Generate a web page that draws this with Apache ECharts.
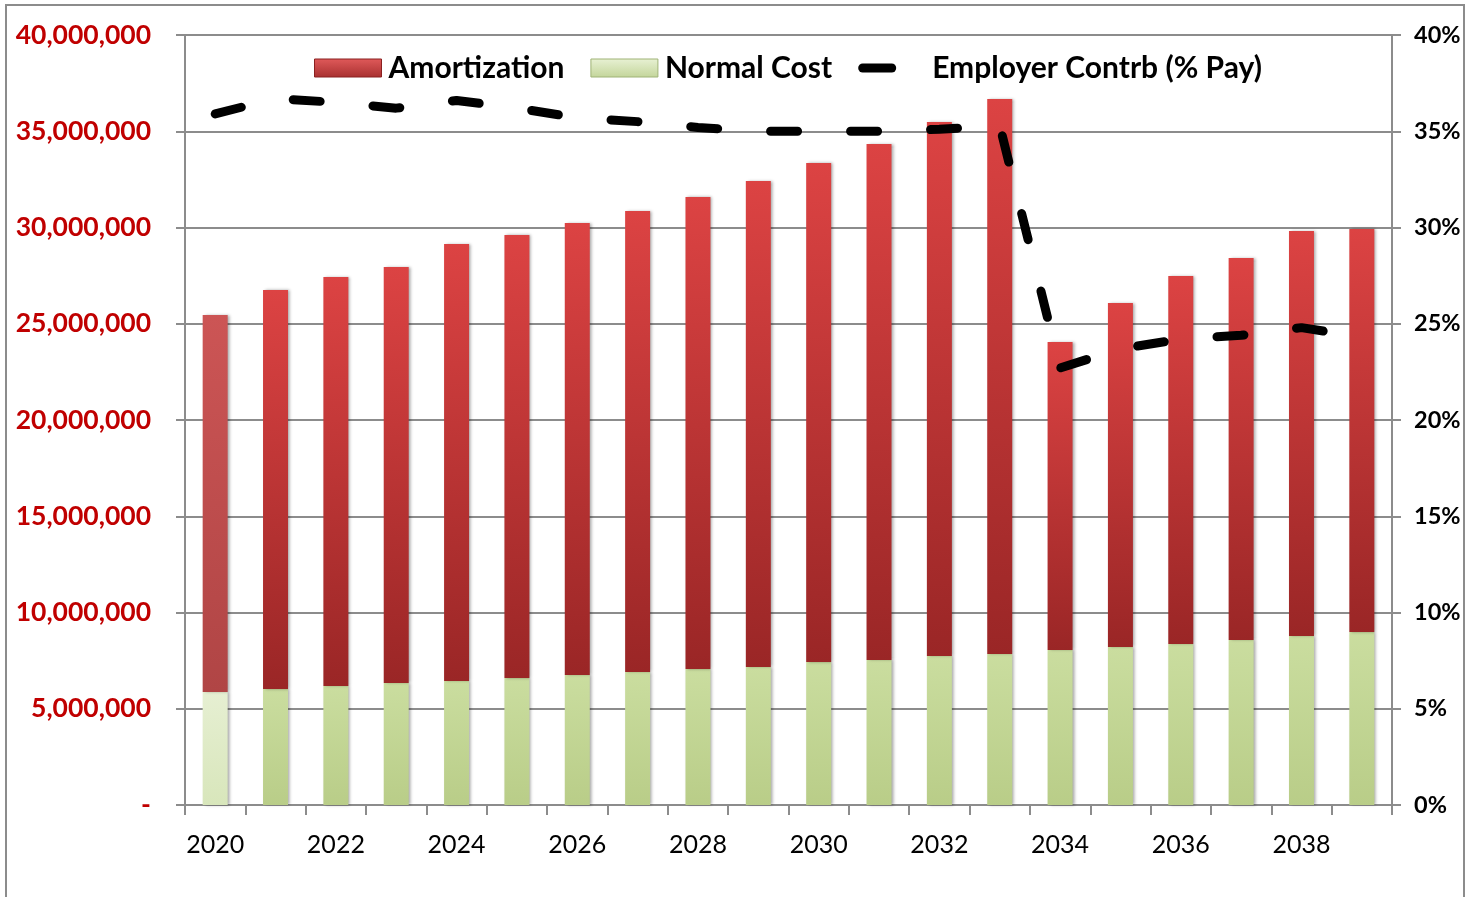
<!DOCTYPE html>
<html><head><meta charset="utf-8">
<script src="https://cdn.jsdelivr.net/npm/echarts@6/dist/echarts.min.js"></script>
<style>html,body{margin:0;padding:0;background:#fff}#c{width:1466px;height:897px}</style>
</head><body><div id="c"></div>
<script>
const years = ['2020','2021','2022','2023','2024','2025','2026','2027','2028','2029','2030','2031','2032','2033','2034','2035','2036','2037','2038','2039'];
const normalCost = [5870000,6030000,6180000,6340000,6440000,6600000,6750000,6910000,7070000,7170000,7430000,7530000,7740000,7840000,8050000,8210000,8360000,8570000,8780000,8990000];
const totalCost = [25450000,26750000,27430000,27950000,29140000,29610000,30230000,30860000,31580000,32420000,33350000,34340000,35480000,36680000,24050000,26080000,27480000,28420000,29820000,29920000];
const amortization = totalCost.map((t,i)=>t-normalCost[i]);
const employerPct = [35.9,36.7,36.5,36.2,36.6,36.2,35.7,35.5,35.2,35.0,35.0,35.0,35.1,35.3,22.7,23.7,24.2,24.4,24.8,24.3];

const G = (a,b)=>new echarts.graphic.LinearGradient(0,0,0,1,[{offset:0,color:a},{offset:1,color:b}]);
const redFill = G('#dc4343','#9a2626');
const redFillLight = G('#cc5555','#b04545');
const greenFill = G('#cadd9f','#b9cd88');
const greenFillLight = G('#e6efd2','#d8e6bb');
const shadow = {shadowBlur:3, shadowOffsetX:2, shadowOffsetY:0, shadowColor:'rgba(0,0,0,0.35)'};
const dashIcon = 'path://M0,0M67,18M4.5,4.5L33.5,4.5A4.5,4.5,0,0,1,33.5,13.5L4.5,13.5A4.5,4.5,0,0,1,4.5,4.5Z';

const chart = echarts.init(document.getElementById('c'));
chart.setOption({
  animation:false,
  backgroundColor:'#fff',
  graphic:[{type:'rect', shape:{x:6,y:5,width:1458,height:900}, style:{fill:'none', stroke:'#8c8c8c', lineWidth:2}, silent:true}],
  legend:{
    left:309, top:48, itemWidth:67, itemHeight:18, itemGap:26,
    textStyle:{fontFamily:'Lato', fontSize:30, color:'#000', fontWeight:'bold', padding:[0,0,0,2]},
    data:[
      {name:'Amortization', icon:'rect', itemStyle:{color:G('#e05a5a','#a83030'), borderColor:'#8a2020', borderWidth:1}},
      {name:'Normal Cost', icon:'rect', itemStyle:{color:G('#e8f1d4','#c3d59a'), borderColor:'#9fb376', borderWidth:1}},
      {name:'Employer Contrb (% Pay)', icon:dashIcon, itemStyle:{color:'#000', borderWidth:0}}
    ]
  },
  grid:{left:185, right:74, top:35, bottom:92, containLabel:false},
  xAxis:{
    type:'category', data:years, boundaryGap:true,
    axisLine:{lineStyle:{color:'#8c8c8c', width:2}},
    axisTick:{show:true, interval:0, length:10, lineStyle:{color:'#8c8c8c', width:2}},
    axisLabel:{interval:1, margin:27, color:'#000', fontFamily:'Lato', fontSize:25}
  },
  yAxis:[{
    type:'value', min:0, max:40000000, interval:5000000, position:'left',
    axisLine:{show:true, lineStyle:{color:'#8c8c8c', width:2}},
    axisTick:{show:true, length:9, lineStyle:{color:'#8c8c8c', width:2}},
    splitLine:{lineStyle:{color:'#8c8c8c', width:2}},
    axisLabel:{margin:34, color:'#c00000', fontFamily:'Lato', fontWeight:'bold', fontSize:26.5,
      formatter:v=> v===0 ? '-' : v.toLocaleString('en-US')}
  },{
    type:'value', min:0, max:40, interval:5, position:'right',
    axisLine:{show:true, lineStyle:{color:'#8c8c8c', width:2}},
    axisTick:{show:true, length:9, lineStyle:{color:'#8c8c8c', width:2}},
    splitLine:{show:false},
    axisLabel:{margin:22, color:'#000', fontFamily:'Lato', fontWeight:'bold', fontSize:23.5, formatter:'{value}%'}
  }],
  series:[
    {name:'Normal Cost', type:'bar', stack:'c', barWidth:25,
     data:normalCost.map((v,i)=>({value:v, itemStyle:{color: i===0?greenFillLight:greenFill}})),
     itemStyle:Object.assign({color:greenFill}, shadow)},
    {name:'Amortization', type:'bar', stack:'c', barWidth:25,
     data:amortization.map((v,i)=>({value:v, itemStyle:{color: i===0?redFillLight:redFill}})),
     itemStyle:Object.assign({color:redFill}, shadow)},
    {name:'Employer Contrb (% Pay)', type:'line', yAxisIndex:1, data:employerPct, symbol:'none', z:5,
     itemStyle:{color:'#000'},
     lineStyle:{color:'#000', width:9, type:[27,53], cap:'round'}}
  ]
});
</script></body></html>
